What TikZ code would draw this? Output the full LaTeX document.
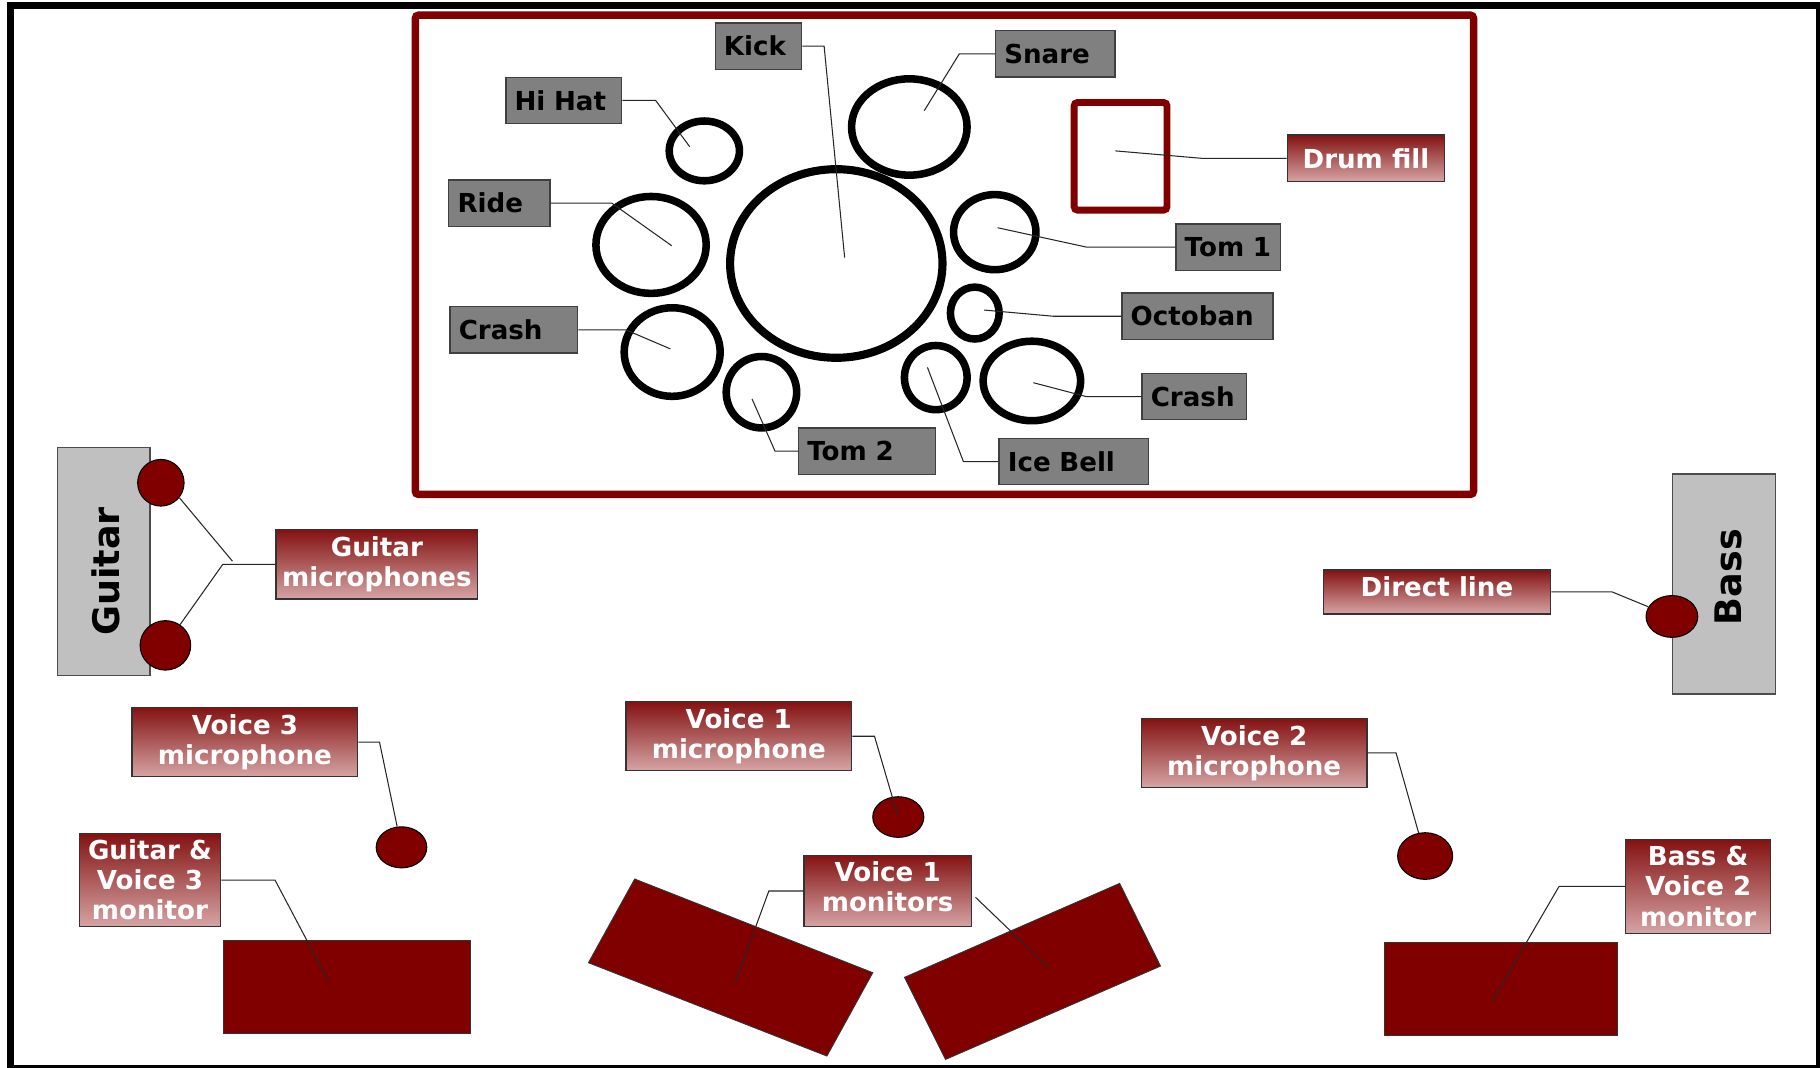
\documentclass[tikz,border=0pt]{standalone}
\usepackage{fontspec}
\setmainfont{DejaVu Sans}
\usetikzlibrary{shapes.geometric,calc}
\definecolor{dred}{RGB}{128,0,0}
\definecolor{gtop}{RGB}{132,18,18}
\definecolor{gbot}{RGB}{214,164,164}
\definecolor{lgray}{RGB}{192,192,192}
\definecolor{mgray}{RGB}{128,128,128}
\newcommand{\lblfont}{\fontsize{22.5}{26}\selectfont\bfseries}
\newcommand{\insfont}{\fontsize{31.5}{36}\selectfont\bfseries}
\begin{document}
\begin{tikzpicture}[x=1pt,y=-1pt,
  conn/.style={draw=black!85, line width=0.9pt},
  ring/.style={ellipse, draw=black, line width=6.5pt, inner sep=0pt},
  glabel/.style={rectangle, draw=black!75, line width=1.1pt, fill=mgray, anchor=north west,
     minimum height=40pt, text width=#1, align=left, inner xsep=7.5pt, inner ysep=0pt,
     font=\lblfont, text=black},
  rlabel/.style={rectangle, draw=black!80, line width=1.1pt, top color=gtop, bottom color=gbot,
     align=center, inner sep=0pt, font=\lblfont, text=white},
  mic/.style={ellipse, draw=black, line width=0.9pt, fill=dred, inner sep=0pt},
  instr/.style={rectangle, draw=black!70, line width=1.1pt, fill=lgray, inner sep=0pt},
  insttext/.style={rotate=90, font=\insfont, inner sep=0pt, text=black},
  monbox/.style={rectangle, fill=dred, draw=black!80, line width=0.8pt, inner sep=0pt},
  monpoly/.style={fill=dred, draw=black!80, line width=0.8pt},
]
\useasboundingbox (0,0) rectangle (1568,919.3);
\clip (0,0) rectangle (1568,919.3);
\fill[white] (0,0) rectangle (1568,919.3);
% outer frame
\draw[line width=6.5pt] (8.9,4.7) rectangle (1568,920.5);
% drum frame
\draw[dred, line width=6.5pt, rounded corners=3pt] (357.8,13) rectangle (1269.5,426);
% drums
\node[ring, minimum width=60.5pt, minimum height=51.5pt] (hihat) at (606.8,130) {};
\node[ring, minimum width=95pt, minimum height=83.5pt] (ride) at (560.9,211) {};
\node[ring, line width=7pt, minimum width=183pt, minimum height=162.5pt] (kick) at (720.5,227) {};
\node[ring, minimum width=99.5pt, minimum height=83pt] (snare) at (783.4,109.4) {};
\node[ring, minimum width=71pt, minimum height=64.7pt] (tom1) at (857,200) {};
\node[ring, minimum width=42pt, minimum height=44.7pt] (oct) at (839.8,269.7) {};
\node[ring, minimum width=84pt, minimum height=68.5pt] (crashr) at (889,328.2) {};
\node[ring, minimum width=54pt, minimum height=55.3pt] (ice) at (806.2,325.3) {};
\node[ring, minimum width=60.7pt, minimum height=61.5pt] (tom2) at (656,337.9) {};
\node[ring, minimum width=82.7pt, minimum height=76.3pt] (crashl) at (579.1,303.3) {};
% drum fill
\draw[dred, line width=6pt, rounded corners=3pt] (925.4,88.3) rectangle (1005.4,181);
% drum labels
\node[glabel=59.5pt] (kickl) at (615.6,19.2) {Kick};
\node[glabel=84.9pt] (hihatl) at (435.3,66) {Hi Hat};
\node[glabel=72.1pt] (ridel) at (386.1,154.5) {Ride};
\node[glabel=94.9pt] (crashll) at (387.2,263.6) {Crash};
\node[glabel=87.8pt] (snarel) at (857.2,25.8) {Snare};
\node[glabel=75pt] (tom1l) at (1012.6,192.4) {Tom 1};
\node[glabel=115.1pt] (octl) at (966.1,251.9) {Octoban};
\node[glabel=75.2pt] (crashrl) at (983.4,321.1) {Crash};
\node[glabel=113.6pt] (icel) at (860.2,377.1) {Ice Bell};
\node[glabel=102.8pt] (tom2l) at (687.5,368.1) {Tom 2};
\node[rlabel, minimum width=135.6pt, minimum height=40.2pt] (filll) at (1176.8,136.4) {Drum fill};
% drum connector ends
\coordinate (kickp) at (727.7,222);
\coordinate (hihatp) at (594.2,126.4);
\coordinate (ridep) at (578.7,211.7);
\coordinate (crashlp) at (577.6,300.6);
\coordinate (snarep) at (796.3,95.3);
\coordinate (tom1p) at (859.5,196.2);
\coordinate (octp) at (847.8,267.1);
\coordinate (crashrp) at (890.3,329.7);
\coordinate (icep) at (799,316.5);
\coordinate (tom2p) at (647.9,343.7);
\coordinate (fillp) at (961,130);
\draw[conn] (kickl.east) -- ++(18.8,0) -- (kickp);
\draw[conn] (hihatl.east) -- ++(28.6,0) -- (hihatp);
\draw[conn] (ridel.east) -- ++(52.8,0) -- (ridep);
\draw[conn] (crashll.east) -- ++(40.9,0) -- (crashlp);
\draw[conn] (snarel.west) -- ++(-30.7,0) -- (snarep);
\draw[conn] (tom1l.west) -- ++(-76.3,0) -- (tom1p);
\draw[conn] (octl.west) -- ++(-58.6,0) -- (octp);
\draw[conn] (crashrl.west) -- ++(-47.7,0) -- (crashrp);
\draw[conn] (icel.west) -- ++(-30.2,0) -- (icep);
\draw[conn] (tom2l.west) -- ++(-19.8,0) -- (tom2p);
\draw[conn] (filll.west) -- ++(-73,0) -- (fillp);
% instruments
\node[instr, minimum width=79.5pt, minimum height=196.5pt] (guitar) at (89.45,483.95) {};
\node[insttext] (guitarT) at (91,492.3) {Guitar};
\node[instr, minimum width=89pt, minimum height=189.5pt] (bass) at (1485.3,503.15) {};
\node[insttext] (bassT) at (1489.5,497.1) {Bass};
% red labels
\node[rlabel, minimum width=173.8pt, minimum height=59.7pt] (gml) at (324.7,486.3) {Guitar\\microphones};
\node[rlabel, minimum width=195.9pt, minimum height=37.9pt] (dll) at (1238,510) {\raisebox{0pt}[\height][9pt]{Direct line}};
\node[rlabel, minimum width=194.6pt, minimum height=59.8pt] (v3l) at (211,639.3) {Voice 3\\microphone};
\node[rlabel, minimum width=122pt, minimum height=80.4pt] (gv3l) at (129.2,758.2) {Guitar \&\\Voice 3\\monitor};
\node[rlabel, minimum width=194.5pt, minimum height=59.5pt] (v1l) at (636.5,634.3) {Voice 1\\microphone};
\node[rlabel, minimum width=144.1pt, minimum height=61.7pt] (v1ml) at (764.7,767.6) {Voice 1\\\raisebox{0pt}[\height][7.4pt]{monitors}};
\node[rlabel, minimum width=194.2pt, minimum height=59.5pt] (v2l) at (1080.5,648.7) {Voice 2\\microphone};
\node[rlabel, minimum width=124.6pt, minimum height=81pt] (bv2l) at (1463,763.7) {Bass \&\\Voice 2\\monitor};
% microphones
\coordinate (gmj) at (200.2,483.4);
\node[mic, minimum width=40pt, minimum height=40.2pt] (gm1) at (138.6,415.9) {};
\node[mic, minimum width=43.6pt, minimum height=42.6pt] (gm2) at (142.5,556) {};
\node[mic, minimum width=43.6pt, minimum height=35.4pt] (v3m) at (345.9,730) {};
\node[mic, minimum width=44pt, minimum height=35pt] (v1m) at (773.9,703.9) {};
\node[mic, minimum width=47.4pt, minimum height=40.2pt] (v2m) at (1227.8,737.5) {};
\node[mic, minimum width=44.6pt, minimum height=36pt] (bassm) at (1440.4,531.1) {};
\draw[conn] (gml.west) -- ++(-45.4,0) -- (gm2);
\draw[conn] (gmj) -- (gm1.-39);
\draw[conn] (dll.east) -- ++(52.5,0) -- (bassm);
\draw[conn] (v3l.east) -- ++(18.1,0) -- (v3m);
\draw[conn] (v2l.east) -- ++(24.6,0) -- (v2m);
\coordinate (v1p) at (773.3,702.2);
\draw[conn] (v1l.east) -- ++(19.1,0) -- (v1p);
% monitors
\node[monbox, minimum width=212.6pt, minimum height=80.4pt] (gmon) at (299.2,850.1) {};
\node[monbox, minimum width=201.1pt, minimum height=79.9pt] (bmon) at (1293.15,851.85) {};
\draw[monpoly] (546.8,757.3) -- (751.9,838) -- (712.4,909.8) -- (507,829.4) -- cycle;
\draw[monpoly] (779.3,842) -- (964.6,761.1) -- (999.8,832.3) -- (814.6,912.7) -- cycle;
\coordinate (gmonp) at (282.9,845.2);
\coordinate (bmonp) at (1285.3,863);
\coordinate (lmonp) at (633.2,847.2);
\coordinate (rmonp) at (904.2,834.3);
\draw[conn] (gv3l.east) -- ++(46.2,0) -- (gmonp);
\draw[conn] (bv2l.west) -- ++(-57,0) -- (bmonp);
\draw[conn] (v1ml.west) -- ++(-29.7,0) -- (lmonp);
\draw[conn] ([shift={(3.2,5.5)}]v1ml.east) -- (rmonp);
\end{tikzpicture}
\end{document}
